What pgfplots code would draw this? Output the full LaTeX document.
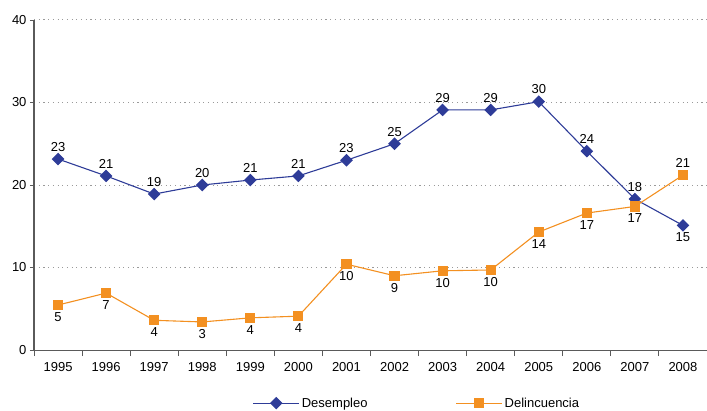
\documentclass[border=0pt]{standalone}
\usepackage{pgfplots}
\pgfplotsset{compat=1.18}
\usepackage{pgfplotstable}
\usepackage{fontspec}
\setmainfont{Liberation Sans}

\definecolor{desblue}{HTML}{2E3C98}
\definecolor{delorange}{HTML}{F39021}
\definecolor{axgray}{HTML}{5A5A5A}
\definecolor{gridgray}{HTML}{9A9A9A}

% year index (0 = 1995), value
\pgfplotstableread{
x y
0 23.15
1 21.1
2 18.9
3 20.0
4 20.6
5 21.1
6 23.0
7 25.0
8 29.1
9 29.1
10 30.1
11 24.1
12 18.3
13 15.1
}\desempleo

\pgfplotstableread{
x y
0 5.45
1 6.9
2 3.6
3 3.4
4 3.9
5 4.1
6 10.4
7 9.0
8 9.6
9 9.7
10 14.3
11 16.6
12 17.4
13 21.2
}\delincuencia

\pgfplotsset{
  valuelabels/.style={
    nodes near coords={\pgfmathprintnumber[fixed,precision=0]{\pgfplotspointmeta}},
    every node near coord/.append style={inner sep=7pt,
      font=\fontsize{13}{15}\selectfont, text=black},
  },
}

\begin{document}
\begin{tikzpicture}
\begin{axis}[
  scale only axis,
  width=673pt, height=330pt,
  xmin=-0.5, xmax=13.5,
  ymin=0, ymax=40,
  axis x line*=bottom,
  axis y line*=left,
  axis line style={-},
  x axis line style={draw=axgray, line width=0.9pt},
  y axis line style={draw=axgray, line width=1.1pt},
  xtick={0,...,13},
  xticklabels={1995,1996,1997,1998,1999,2000,2001,2002,2003,2004,2005,2006,2007,2008},
  minor xtick={-0.5,0.5,...,13.5},
  major x tick style={draw=none},
  minor x tick style={draw=axgray, line width=0.9pt},
  minor tick length=6pt,
  ytick={0,10,20,30,40},
  major tick length=4pt,
  ytick style={draw=axgray, line width=0.9pt},
  tick align=outside,
  ymajorgrids,
  major grid style={draw=gridgray, line width=1pt, dash pattern=on 1.1pt off 3.6pt},
  /pgf/number format/assume math mode=true,
  tick label style={font=\fontsize{13}{15}\selectfont, text=black},
  xticklabel style={yshift=-5pt},
  legend style={draw=none, fill=none, at={(0.569,-0.161)}, anchor=center,
    font=\fontsize{13}{15}\selectfont,
    /tikz/every even column/.append style={column sep=86pt}},
  legend columns=2,
  legend image code/.code={
    \draw[mark repeat=2,mark phase=2,#1] plot coordinates {(0pt,0pt) (23pt,0pt) (46pt,0pt)};
  },
  clip=false,
]
\addplot[desblue, line width=1.1pt, mark=square*, mark size=3.9pt,
  mark options={rotate=45, fill=desblue, draw=desblue},
  valuelabels,
  coordinate style/.condition={x<12.5}{anchor=south},
  coordinate style/.condition={x>12.5}{anchor=north}]
  table[x=x, y=y] {\desempleo};
\addlegendentry{Desempleo}
\addplot[delorange, line width=1.1pt, mark=square*, mark size=4.5pt,
  mark options={fill=delorange, draw=delorange},
  valuelabels,
  coordinate style/.condition={x<12.5}{anchor=north},
  coordinate style/.condition={x>12.5}{anchor=south}]
  table[x=x, y=y] {\delincuencia};
\addlegendentry{Delincuencia}
\end{axis}
\pgfresetboundingbox
\path (-34pt,-60pt) rectangle (673pt,350pt);
\end{tikzpicture}
\end{document}
